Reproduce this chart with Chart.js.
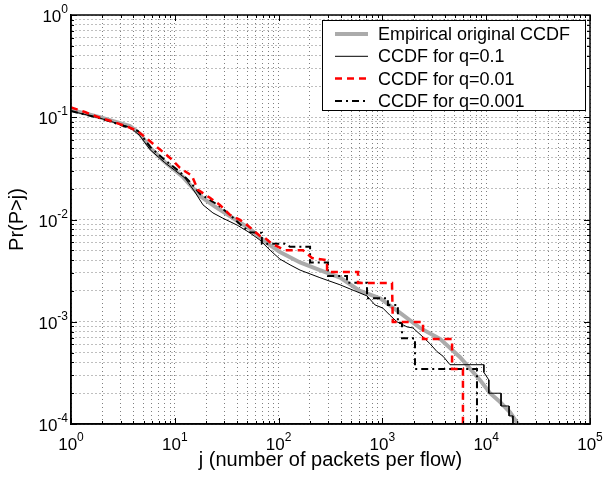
<html lang="en">
<head>
<meta charset="UTF-8" />
<title>CCDF of packets per flow</title>
<script src="https://cdn.jsdelivr.net/npm/chart.js@4.4.1/dist/chart.umd.min.js"></script>
<style>
  body { margin: 0; background: #fff; }
  canvas { display: block; }
</style>
</head>
<body>
<canvas id="chart" width="603" height="478"></canvas>
<script>
// values
var empX = [1, 1.9, 3.7, 4.6, 5.8, 8.0, 12, 17.5, 24, 42, 53, 77, 103, 161, 250, 391, 608, 948, 1480, 2300, 3590, 5600, 8700, 10900, 13600, 17000, 20200];
var empY = [0.118, 0.1, 0.082, 0.069, 0.05, 0.0365, 0.026, 0.017, 0.0135, 0.0094, 0.0081, 0.0059, 0.0048, 0.0038, 0.0032, 0.0027, 0.002, 0.0017, 0.00122, 0.00087, 0.00068, 0.00045, 0.00027, 0.0002, 0.000164, 0.00013, 0.0001];

var q1X = [1, 1.9, 3.7, 4.6, 5.8, 8.0, 12.5, 15.6, 18.7, 23.3, 29, 40, 53, 66, 83, 103, 129, 161, 250, 390, 545, 710, 850, 1010, 1180, 1380, 1730, 1970, 2460, 2870, 3360, 3840, 4480, 9500, 9500, 10600, 10600, 13900, 13900, 16600, 16600, 18100, 18100];
var q1Y = [0.115, 0.098, 0.080, 0.066, 0.048, 0.036, 0.0255, 0.0186, 0.0139, 0.0116, 0.0103, 0.0088, 0.0074, 0.0063, 0.005, 0.0041, 0.0036, 0.0032, 0.0027, 0.0023, 0.002, 0.00179, 0.00146, 0.00136, 0.00116, 0.001, 0.00089, 0.00087, 0.00071, 0.00061, 0.00051, 0.00046, 0.00038, 0.00038, 0.00032, 0.00027, 0.0002, 0.0002, 0.00015, 0.00015, 0.00012, 0.00012, 0.00009];

var q01X = [1, 1.36, 1.9, 2.54, 3.46, 4.32, 5.52, 7.2, 9.0, 11.2, 14.6, 16.7, 21.8, 27.2, 34, 42.5, 50.7, 66, 74, 86, 115, 172, 210, 293, 293, 582, 582, 1237, 1260, 2462, 2462, 4690, 4690, 5970, 5970];
var q01Y = [0.125, 0.1125, 0.099, 0.0904, 0.081, 0.074, 0.0605, 0.0483, 0.040, 0.032, 0.0268, 0.0195, 0.0163, 0.0139, 0.0111, 0.0099, 0.0087, 0.0069, 0.0066, 0.0058, 0.005, 0.005, 0.0042, 0.004, 0.00307, 0.00307, 0.00239, 0.00239, 0.000995, 0.000995, 0.000678, 0.000678, 0.000345, 0.000345, 0.00009];

var q001X = [1, 1.9, 3.7, 4.42, 5.8, 8.0, 11.2, 14, 17.5, 26, 34, 42.5, 53, 69, 69, 115, 129, 201, 201, 299, 299, 456, 456, 711, 711, 1130, 1130, 1410, 1410, 1545, 1545, 2060, 2060, 8150, 8150];
var q001Y = [0.115, 0.098, 0.0785, 0.0734, 0.0512, 0.0382, 0.0292, 0.0233, 0.0178, 0.0139, 0.0111, 0.009, 0.0075, 0.0074, 0.0058, 0.0058, 0.0054, 0.0054, 0.0038, 0.0038, 0.0028, 0.0028, 0.0024, 0.0024, 0.0017, 0.0017, 0.00146, 0.00146, 0.00097, 0.00097, 0.00069, 0.00069, 0.000345, 0.000345, 0.00009];

var seriesNames = ['Empirical original CCDF', 'CCDF for q=0.1', 'CCDF for q=0.01', 'CCDF for q=0.001'];
var xDecades = [0, 1, 2, 3, 4, 5];
var yDecades = [-4, -3, -2, -1, 0];

var fontFam = '"Liberation Sans", Arial, Helvetica, sans-serif';

function pts(xs, ys) {
  return xs.map(function (x, i) { return { x: x, y: ys[i] }; });
}

function logTicks(decs) {
  var t = [];
  for (var i = 0; i < decs.length - 1; i++) {
    for (var m = 1; m < 10; m++) t.push({ value: m * Math.pow(10, decs[i]), major: m === 1, exp: decs[i] });
  }
  t.push({ value: Math.pow(10, decs[decs.length - 1]), major: true, exp: decs[decs.length - 1] });
  return t;
}

function powLabel(ctx, e, x, y, align) {
  ctx.font = '17px ' + fontFam;
  var bw = ctx.measureText('10').width;
  ctx.font = '12px ' + fontFam;
  var es = String(e);
  var ew = ctx.measureText(es).width;
  var x0 = align === 'center' ? x - (bw + ew) / 2 : x - bw - ew;
  ctx.textAlign = 'left';
  ctx.textBaseline = 'alphabetic';
  ctx.font = '17px ' + fontFam;
  ctx.fillText('10', x0, y);
  ctx.font = '12px ' + fontFam;
  ctx.fillText(es, x0 + bw, y - 9);
}

// box, inward ticks, power-of-ten labels and the legend
var frame = {
  id: 'frame',
  afterDraw: function (chart) {
    var ctx = chart.ctx, a = chart.chartArea;
    var xs = chart.scales.x, ys = chart.scales.y;
    ctx.save();
    ctx.strokeStyle = '#000';
    ctx.lineWidth = 1;
    xs.ticks.forEach(function (t) {
      var px = Math.round(xs.getPixelForValue(t.value)) + 0.5;
      var len = t.major ? 6 : 3;
      ctx.beginPath();
      ctx.moveTo(px, a.bottom); ctx.lineTo(px, a.bottom - len);
      ctx.moveTo(px, a.top); ctx.lineTo(px, a.top + len);
      ctx.stroke();
    });
    ys.ticks.forEach(function (t) {
      var py = Math.round(ys.getPixelForValue(t.value)) + 0.5;
      var len = t.major ? 6 : 3;
      ctx.beginPath();
      ctx.moveTo(a.left, py); ctx.lineTo(a.left + len, py);
      ctx.moveTo(a.right, py); ctx.lineTo(a.right - len, py);
      ctx.stroke();
    });
    ctx.lineWidth = 1.5;
    ctx.strokeRect(a.left, a.top, a.right - a.left, a.bottom - a.top);

    ctx.fillStyle = '#000';
    xDecades.forEach(function (e) {
      powLabel(ctx, e, xs.getPixelForValue(Math.pow(10, e)), a.bottom + 26, 'center');
    });
    yDecades.forEach(function (e) {
      powLabel(ctx, e, a.left - 3, ys.getPixelForValue(Math.pow(10, e)) + 7, 'right');
    });

    // legend
    var lx = a.right - 268, ly = a.top + 5, lw = 263, lh = 90;
    ctx.fillStyle = '#fff';
    ctx.fillRect(lx, ly, lw, lh);
    ctx.lineWidth = 1;
    ctx.strokeStyle = '#000';
    ctx.strokeRect(lx + 0.5, ly + 0.5, lw, lh);
    chart.data.datasets.forEach(function (ds, i) {
      var ry = ly + 14 + i * 22.3;
      ctx.save();
      ctx.strokeStyle = ds.borderColor;
      ctx.lineWidth = ds.borderWidth;
      ctx.setLineDash(ds.borderDash || []);
      ctx.beginPath();
      ctx.moveTo(lx + 13, ry);
      ctx.lineTo(lx + 46, ry);
      ctx.stroke();
      ctx.restore();
      ctx.fillStyle = '#000';
      ctx.font = '18px ' + fontFam;
      ctx.textAlign = 'left';
      ctx.textBaseline = 'middle';
      ctx.fillText(ds.label, lx + 56, ry + 1);
    });
    ctx.restore();
  }
};

var ctx = document.getElementById('chart').getContext('2d');

var gridOpts = { color: 'rgba(0,0,0,0.5)', lineWidth: 1, drawTicks: false };
var borderOpts = { display: true, color: '#000', width: 1.5, dash: [1, 3] };

var myChart = new Chart(ctx, {
  type: 'scatter',
  data: {
    datasets: [
      { label: seriesNames[0], data: pts(empX, empY), borderColor: '#ababab', borderWidth: 4, order: 3 },
      { label: seriesNames[1], data: pts(q1X, q1Y), borderColor: '#000000', borderWidth: 1, order: 2 },
      { label: seriesNames[2], data: pts(q01X, q01Y), borderColor: '#ff0000', borderWidth: 2.5, borderDash: [7, 5], order: 0 },
      { label: seriesNames[3], data: pts(q001X, q001Y), borderColor: '#000000', borderWidth: 2, borderDash: [7, 4, 2, 4], order: 1 }
    ].map(function (d) {
      d.showLine = true; d.pointRadius = 0; d.tension = 0; d.fill = false;
      return d;
    })
  },
  options: {
    responsive: false,
    animation: false,
    layout: { padding: { top: 15, right: 13, left: 0, bottom: 0 } },
    plugins: { legend: { display: false }, tooltip: { enabled: false } },
    scales: {
      x: {
        type: 'logarithmic', min: 1, max: 1e5,
        afterBuildTicks: function (s) { s.ticks = logTicks(xDecades); },
        ticks: { display: false },
        grid: gridOpts,
        border: borderOpts,
        title: { display: true, text: 'j (number of packets per flow)', color: '#000', font: { size: 20, family: fontFam }, padding: { top: 24, bottom: 6 } }
      },
      y: {
        type: 'logarithmic', min: 1e-4, max: 1,
        afterBuildTicks: function (s) { s.ticks = logTicks(yDecades); },
        ticks: { display: false },
        grid: gridOpts,
        border: borderOpts,
        title: { display: true, text: 'Pr(P>j)', color: '#000', font: { size: 20, family: fontFam }, padding: { top: 5, bottom: 42 } }
      }
    }
  },
  plugins: [frame]
});
</script>
</body>
</html>
